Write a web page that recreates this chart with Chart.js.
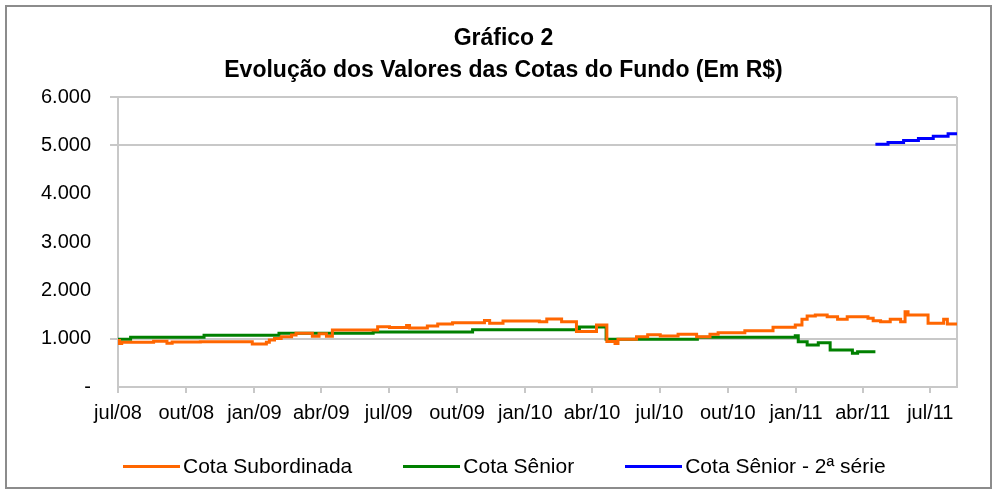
<!DOCTYPE html>
<html>
<head>
<meta charset="utf-8">
<script src="https://cdn.jsdelivr.net/npm/chart.js@4/dist/chart.umd.min.js"></script>
<style>
  html, body { margin: 0; padding: 0; background: #fff; }
  #box { position: relative; width: 997px; height: 494px; }
  #legenda {
    position: absolute; left: 123px; top: 454px;
    display: flex; gap: 51px;
    font-family: Arial, "Liberation Sans", sans-serif; font-size: 21px; line-height: 24px; color: #000;
  }
  #legenda .item { display: flex; align-items: center; white-space: nowrap; }
  #legenda .linha { display: inline-block; width: 57px; height: 3px; margin-right: 3px; }
</style>
</head>
<body>
<div id="box">
  <canvas id="grafico" width="997" height="494"></canvas>
  <div id="legenda"></div>
</div>
<script>
// Cota Subordinada (data em que o valor passa a valer)
const datasSubordinada = [
  "2008-07-01", "2008-07-03", "2008-07-06", "2008-08-18", "2008-09-05", "2008-09-12", "2008-10-20",
  "2008-12-29", "2009-01-17", "2009-01-21", "2009-01-28", "2009-02-06", "2009-02-20", "2009-02-26",
  "2009-03-20", "2009-03-29", "2009-04-08", "2009-04-16", "2009-06-16", "2009-07-02", "2009-07-25",
  "2009-07-29", "2009-08-22", "2009-09-05", "2009-09-25", "2009-11-07", "2009-11-14", "2009-12-02",
  "2010-01-20", "2010-01-30", "2010-02-19", "2010-03-11", "2010-04-07", "2010-04-21", "2010-05-02",
  "2010-05-06", "2010-05-31", "2010-06-15", "2010-07-02", "2010-07-26", "2010-08-20", "2010-09-07",
  "2010-09-18", "2010-10-24", "2010-12-01", "2010-12-31", "2011-01-09", "2011-01-16", "2011-01-27",
  "2011-02-12", "2011-02-26", "2011-03-11", "2011-04-08", "2011-04-15", "2011-04-25", "2011-05-08",
  "2011-05-22", "2011-05-28", "2011-06-01", "2011-06-28", "2011-07-19", "2011-07-24", "2011-08-06"
];
const cotaSubordinada = [
  960, 900, 925, 945, 905, 930, 935,
  890, 925, 970, 1005, 1040, 1075, 1110,
  1050, 1100, 1050, 1180, 1245, 1230, 1270,
  1220, 1262, 1303, 1331, 1375, 1317, 1366,
  1350, 1407, 1351, 1150, 1283, 940, 900,
  990, 1040, 1083, 1055, 1090, 1040, 1090,
  1124, 1165, 1235, 1283, 1400, 1469, 1490,
  1455, 1400, 1455, 1420, 1372, 1351, 1400,
  1351, 1558, 1490, 1317, 1400, 1303, 1303
];

// Cota Sênior
const datasSenior = [
  "2008-07-01", "2008-07-18", "2008-10-25", "2009-02-03", "2009-06-10", "2009-10-22",
  "2010-03-15", "2010-04-20", "2010-08-21", "2010-12-31", "2011-01-04", "2011-01-16",
  "2011-01-31", "2011-02-16", "2011-03-18", "2011-03-25", "2011-04-18"
];
const cotaSenior = [
  990, 1030, 1070, 1110, 1140, 1185,
  1240, 990, 1030, 1060, 937, 869,
  917, 766, 697, 731, 731
];

// Cota Sênior - 2ª série
const datasSenior2 = ["2011-04-18", "2011-05-05", "2011-05-26", "2011-06-15", "2011-07-05", "2011-07-25", "2011-08-06"];
const cotaSenior2 = [5020, 5060, 5100, 5140, 5190, 5240, 5240];

// eixo x
const datasTicks = ["2008-07-01", "2008-10-01", "2009-01-01", "2009-04-01", "2009-07-01", "2009-10-01",
  "2010-01-01", "2010-04-01", "2010-07-01", "2010-10-01", "2011-01-01", "2011-04-01", "2011-07-01"];
const rotulosX = ["jul/08", "out/08", "jan/09", "abr/09", "jul/09", "out/09",
  "jan/10", "abr/10", "jul/10", "out/10", "jan/11", "abr/11", "jul/11"];
const dataInicio = "2008-07-01";
const dataFim = "2011-08-06";

const FONTE = 'Arial, "Liberation Sans", sans-serif';

function dias(s) {
  const [a, m, d] = s.split("-").map(Number);
  return (Date.UTC(a, m - 1, d) - Date.UTC(2008, 6, 1)) / 86400000;
}
const pontos = (datas, valores) => datas.map((d, i) => ({ x: dias(d), y: valores[i] }));

function formatarMil(v) {
  if (v === 0) return "-";
  return (v / 1000) + ".000";
}

// moldura externa e borda direita da área do gráfico
const moldura = {
  id: "moldura",
  beforeDraw(chart) {
    const ctx = chart.ctx;
    ctx.save();
    ctx.fillStyle = "#fff";
    ctx.fillRect(0, 0, chart.width, chart.height);
    ctx.strokeStyle = "#8c8c8c";
    ctx.lineWidth = 2;
    ctx.strokeRect(6, 6, chart.width - 12, chart.height - 12);
    ctx.restore();
  },
  beforeDatasetsDraw(chart) {
    const { ctx, chartArea } = chart;
    ctx.save();
    ctx.strokeStyle = "#c8c8c8";
    ctx.lineWidth = 2;
    ctx.beginPath();
    ctx.moveTo(chartArea.right, chartArea.top);
    ctx.lineTo(chartArea.right, chartArea.bottom);
    ctx.stroke();
    ctx.restore();
  }
};

const ALTURA_X = 60;
const PAD_ESQ = 10;

const grafico = new Chart(document.getElementById("grafico"), {
  type: "line",
  data: {
    datasets: [
      { label: "Cota Subordinada", data: pontos(datasSubordinada, cotaSubordinada), borderColor: "#ff6600", backgroundColor: "#ff6600" },
      { label: "Cota Sênior", data: pontos(datasSenior, cotaSenior), borderColor: "#008000", backgroundColor: "#008000" },
      { label: "Cota Sênior - 2ª série", data: pontos(datasSenior2, cotaSenior2), borderColor: "#0000ff", backgroundColor: "#0000ff" }
    ]
  },
  options: {
    responsive: false,
    animation: false,
    devicePixelRatio: 1,
    layout: { padding: { left: PAD_ESQ, right: 0, top: 0, bottom: 494 - 387 - ALTURA_X } },
    elements: {
      line: { borderWidth: 3, stepped: true, tension: 0 },
      point: { radius: 0 }
    },
    plugins: {
      title: {
        display: true,
        text: ["Gráfico 2", "Evolução dos Valores das Cotas do Fundo (Em R$)"],
        color: "#000",
        font: { family: FONTE, size: 23, weight: "bold", lineHeight: "32px" },
        padding: { top: 23, bottom: 10 }
      },
      legend: { display: false },
      tooltip: { enabled: false }
    },
    scales: {
      x: {
        type: "linear",
        min: dias(dataInicio),
        max: dias(dataFim),
        afterBuildTicks: (eixo) => { eixo.ticks = datasTicks.map(d => ({ value: dias(d) })); },
        afterFit: (eixo) => { eixo.height = ALTURA_X; },
        grid: { drawOnChartArea: false, drawTicks: true, tickLength: 6, color: "#c8c8c8", lineWidth: 2 },
        border: { color: "#c8c8c8", width: 2 },
        ticks: {
          autoSkip: false,
          maxRotation: 0,
          padding: 8,
          color: "#000",
          font: { family: FONTE, size: 20 },
          callback: (v) => {
            const i = datasTicks.findIndex(d => dias(d) === v);
            return i >= 0 ? rotulosX[i] : "";
          }
        }
      },
      y: {
        min: 0,
        max: 6000,
        afterFit: (eixo) => { eixo.width = 118 - PAD_ESQ; },
        grid: {
          drawTicks: true,
          tickLength: 8,
          lineWidth: 2,
          color: (c) => ([1000, 5000, 6000].includes(c.tick && c.tick.value) ? "#c8c8c8" : "rgba(0,0,0,0)")
        },
        border: { color: "#c8c8c8", width: 2 },
        ticks: {
          stepSize: 1000,
          padding: 19,
          color: "#000",
          font: { family: FONTE, size: 20 },
          callback: (v) => formatarMil(v)
        }
      },
      // espaço vazio à direita da área do gráfico
      margem: {
        type: "linear",
        position: "right",
        display: true,
        afterFit: (eixo) => { eixo.width = 40; },
        grid: { display: false },
        border: { display: false },
        ticks: { display: false }
      }
    }
  },
  plugins: [moldura]
});

// legenda montada a partir das séries do gráfico
const legenda = document.getElementById("legenda");
grafico.data.datasets.forEach(ds => {
  const item = document.createElement("div");
  item.className = "item";
  const linha = document.createElement("span");
  linha.className = "linha";
  linha.style.background = ds.borderColor;
  item.appendChild(linha);
  item.appendChild(document.createTextNode(ds.label));
  legenda.appendChild(item);
});
</script>
</body>
</html>
